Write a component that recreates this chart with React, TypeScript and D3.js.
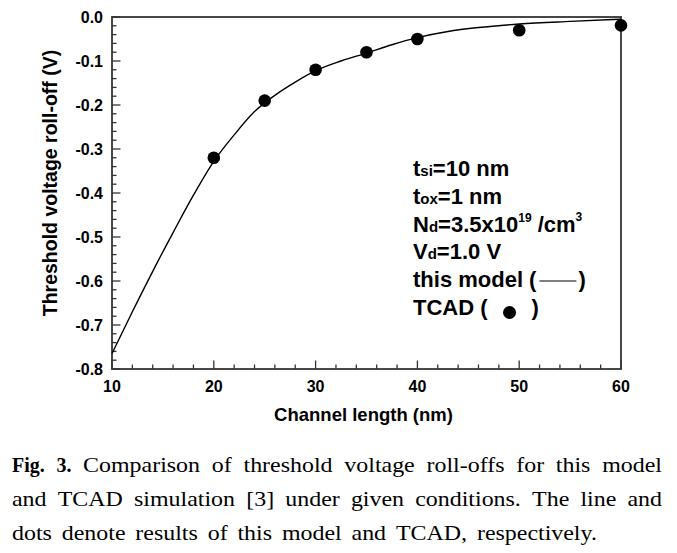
import React from 'react';
import * as d3 from 'd3';

// Model curve (this model)
const curveL = [10, 12, 14, 16, 18, 20, 22, 24, 26, 28, 30, 32.5, 35, 37.5, 40, 43, 46, 50, 55, 60];
const curveV = [-0.765, -0.67, -0.578, -0.49, -0.405, -0.328, -0.268, -0.215, -0.178, -0.148, -0.122, -0.1, -0.082, -0.063, -0.047, -0.033, -0.024, -0.016, -0.01, -0.005];
// TCAD points
const tcadL = [20, 25, 30, 35, 40, 50, 60];
const tcadV = [-0.32, -0.19, -0.12, -0.08, -0.05, -0.03, -0.019];
// Tick labels
const xTickValues = [10, 20, 30, 40, 50, 60];
const yTickValues = [0, -0.1, -0.2, -0.3, -0.4, -0.5, -0.6, -0.7, -0.8];
const xTitle = 'Channel length (nm)';
const yTitle = 'Threshold voltage roll-off (V)';
const captionLines = [
  ['Fig. 3.', 'Comparison of threshold voltage roll-offs for this model'],
  ['', 'and TCAD simulation [3] under given conditions. The line and'],
  ['', 'dots denote results of this model and TCAD, respectively.'],
];

const SANS = "'Liberation Sans', Arial, sans-serif";
const SERIF = "'Liberation Serif', 'Times New Roman', serif";

let ctx: CanvasRenderingContext2D | null = null;
function mw(text: string, font: string): number {
  if (!ctx) ctx = document.createElement('canvas').getContext('2d');
  if (!ctx) return text.length * 10;
  ctx.font = font;
  return ctx.measureText(text).width;
}

export default function App() {
  const W = 677, H = 553;
  const m = { l: 112, t: 17, r: 621, b: 369 };
  const x = d3.scaleLinear().domain([10, 60]).range([m.l, m.r]);
  const y = d3.scaleLinear().domain([-0.8, 0]).range([m.b, m.t]);

  const line = d3
    .line<number>()
    .x((_, i) => x(curveL[i]))
    .y((d) => y(d))
    .curve(d3.curveMonotoneX);

  const xMinor = d3.range(10, 60.01, 2);
  const yMinor = d3.range(-0.8, 0.001, 0.02);
  const axisColor = '#333';

  // annotation
  const ax = 413;
  const big = `bold 22px ${SANS}`;
  const t5 = ax + mw('this model (', big);
  const t6 = ax + mw('TCAD (', big);

  // caption justification
  const capSize = 21;
  const sx = 1.14;
  const capLeft = 12;
  const capRights = [662, 662, 597];
  const capBase = [472, 506, 540];
  const captionEls: JSX.Element[] = [];
  captionLines.forEach((ln, li) => {
    const words: { w: string; bold: boolean }[] = [];
    if (ln[0]) ln[0].split(' ').forEach((w) => words.push({ w, bold: true }));
    ln[1].split(' ').forEach((w) => words.push({ w, bold: false }));
    const widths = words.map((wd) =>
      wd.bold ? mw(wd.w, `bold ${capSize}px ${SERIF}`) * 0.95 : mw(wd.w, `${capSize}px ${SERIF}`) * sx
    );
    const total = widths.reduce((a, b) => a + b, 0);
    const gap = (capRights[li] - capLeft - total) / (words.length - 1);
    let cx = capLeft;
    words.forEach((wd, i) => {
      captionEls.push(
        <text
          key={`c${li}-${i}`}
          transform={`translate(${cx},${capBase[li]}) scale(${wd.bold ? 0.95 : sx},1)`}
          fontFamily={SERIF}
          fontSize={capSize}
          fontWeight={wd.bold ? 'bold' : 'normal'}
          fill="#000"
        >
          {wd.w}
        </text>
      );
      cx += widths[i] + gap;
    });
  });

  return (
    <svg width={W} height={H} style={{ position: 'absolute', left: 0, top: 0, background: '#fff' }}>
      <rect x={0} y={0} width={W} height={H} fill="#fff" />
      {/* minor ticks */}
      {xMinor.map((v) => (
        <line key={`xm${v}`} x1={x(v)} x2={x(v)} y1={m.b} y2={m.b - (Math.abs(v % 10) < 0.01 ? 8.5 : 4.5)} stroke={axisColor} strokeWidth={1.3} />
      ))}
      {yMinor.map((v, i) => (
        <line key={`ym${i}`} x1={m.l} x2={m.l + (i % 5 === 0 ? 8.5 : 4.5)} y1={y(v)} y2={y(v)} stroke={axisColor} strokeWidth={1.3} />
      ))}
      {/* frame */}
      <rect x={m.l} y={m.t} width={m.r - m.l} height={m.b - m.t} fill="none" stroke={axisColor} strokeWidth={1.8} />
      {/* tick labels */}
      {xTickValues.map((v) => (
        <text key={`xl${v}`} x={x(v)} y={392} textAnchor="middle" fontFamily={SANS} fontWeight="bold" fontSize={16} fill="#000">
          {v}
        </text>
      ))}
      {yTickValues.map((v) => (
        <text key={`yl${v}`} x={103} y={y(v) + 5.6} textAnchor="end" fontFamily={SANS} fontWeight="bold" fontSize={16} fill="#000">
          {v === 0 ? '0.0' : v.toFixed(1)}
        </text>
      ))}
      {/* axis titles */}
      <text x={(m.l + m.r) / 2 - 3} y={421} textAnchor="middle" fontFamily={SANS} fontWeight="bold" fontSize={18.5} fill="#000">
        {xTitle}
      </text>
      <text transform={`translate(57,${183}) rotate(-90)`} textAnchor="middle" fontFamily={SANS} fontWeight="bold" fontSize={19.5} fill="#000">
        {yTitle}
      </text>
      {/* model curve */}
      <path d={line(curveV) || ''} fill="none" stroke="#000" strokeWidth={1.4} />
      {/* TCAD dots */}
      {tcadL.map((l, i) => (
        <circle key={`d${l}`} cx={x(l)} cy={y(tcadV[i])} r={6.3} fill="#000" />
      ))}
      {/* annotation */}
      <g fontFamily={SANS} fontWeight="bold" fill="#000">
        <text x={ax} y={176} fontSize={22}>
          t<tspan fontSize={15}>si</tspan>=10 nm
        </text>
        <text x={ax} y={204} fontSize={22}>
          t<tspan fontSize={15}>ox</tspan>=1 nm
        </text>
        <text x={ax} y={232} fontSize={22}>
          N<tspan fontSize={15}>d</tspan>=3.5x10<tspan fontSize={12} dy={-10}>19</tspan>
          <tspan dy={10}> /cm</tspan>
          <tspan fontSize={12} dy={-11}>3</tspan>
        </text>
        <text x={ax} y={259} fontSize={22}>
          V<tspan fontSize={15}>d</tspan>=1.0 V
        </text>
        <text x={ax} y={287} fontSize={22}>
          this model (
        </text>
        <line x1={t5 + 3} x2={t5 + 40} y1={281} y2={281} stroke="#000" strokeWidth={1.2} />
        <text x={t5 + 42} y={287} fontSize={22}>
          )
        </text>
        <text x={ax} y={315} fontSize={22}>
          TCAD (
        </text>
        <circle cx={t6 + 22} cy={312.5} r={6.5} fill="#000" />
        <text x={t6 + 44} y={315} fontSize={22}>
          )
        </text>
      </g>
      {/* caption */}
      {captionEls}
    </svg>
  );
}
